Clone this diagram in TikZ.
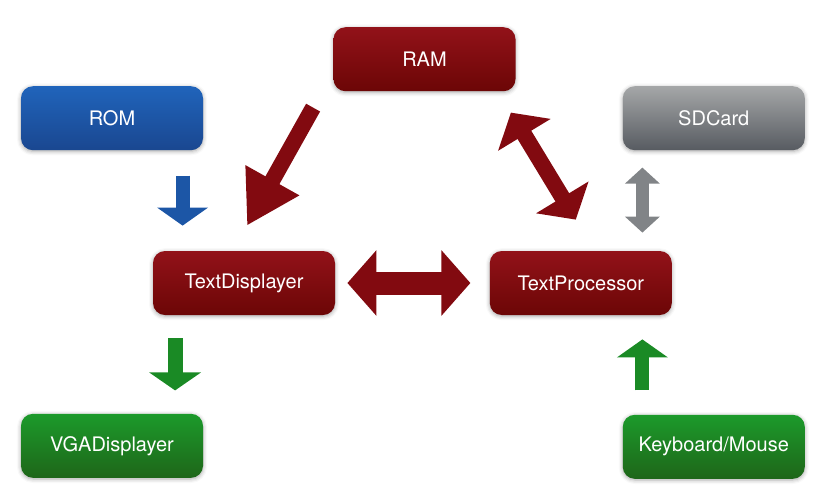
\documentclass[tikz,border=0pt]{standalone}
\usepackage{fontspec}
\setmainfont{TeX Gyre Heros}
\usepackage{tikz}
\usetikzlibrary{positioning,arrows.meta,shadows.blur}

\definecolor{redtop}{HTML}{921219}
\definecolor{redbot}{HTML}{6C0606}
\definecolor{bluetop}{HTML}{2064BB}
\definecolor{bluebot}{HTML}{1A4790}
\definecolor{graytop}{HTML}{A5A7A8}
\definecolor{graybot}{HTML}{575B61}
\definecolor{greentop}{HTML}{1C9A2B}
\definecolor{greenbot}{HTML}{1E6619}
\definecolor{redarr}{HTML}{820A10}
\definecolor{bluearr}{HTML}{1C56A6}
\definecolor{grayarr}{HTML}{818487}
\definecolor{greenarr}{HTML}{1A8A25}

\newcommand{\boxfont}{\fontsize{10pt}{12pt}\selectfont}

\tikzset{
  unit/.style={rounded corners=6pt, minimum width=91pt, minimum height=32pt,
    text=white, font=\boxfont,
    blur shadow={shadow xshift=0pt, shadow yshift=-0.6pt, shadow blur radius=2pt, shadow opacity=35}},
  redunit/.style={unit, top color=redtop, bottom color=redbot},
  blueunit/.style={unit, top color=bluetop, bottom color=bluebot},
  grayunit/.style={unit, top color=graytop, bottom color=graybot},
  greenunit/.style={unit, top color=greentop, bottom color=greenbot},
  fat/.style={line width=#1, line cap=butt},
}

\begin{document}
\begin{tikzpicture}[x=0.5pt, y=-0.5pt, node distance=50pt]
    \useasboundingbox (0,0) rectangle (820,495);

    \node[redunit]                                   (td)  at (244,283) {TextDisplayer};
    \node[redunit, right=77pt of td]                 (tp)  {TextProcessor};
    \node[redunit, above=79.5pt of td, xshift=90.25pt] (ram) {RAM};
    \node[blueunit, above=of td, xshift=-66pt]       (rom) {ROM};
    \node[grayunit, above=of tp, xshift=66.5pt]      (sd)  {SDCard};
    \node[greenunit, below=49pt of td, xshift=-66pt] (vga) {VGADisplayer};
    \node[greenunit, below=49.5pt of tp, xshift=66.5pt] (kb) {Keyboard/Mouse};

    \draw[fat=7pt, bluearr, -{Triangle[length=9pt 0 0, width=25pt 0]}, shorten <=12.5pt, shorten >=12.5pt]
        ([xshift=15pt]td.north west |- rom.south) -- ([xshift=15pt]td.north west);
    \draw[fat=8pt, redarr, -{Triangle[length=26pt 0 0, width=29pt 0]}]
        ([xshift=-10pt,yshift=-8pt]ram.south west) -- ([xshift=1.5pt,yshift=12.5pt]td.north);
    \draw[fat=8pt, redarr, {Triangle[length=13pt 0 0, width=30pt 0]}-{Triangle[length=13pt 0 0, width=30pt 0]}]
        ([xshift=-2.5pt,yshift=-10.5pt]ram.south east) -- ([xshift=-2.5pt,yshift=15.5pt]tp.north);
    \draw[fat=11.5pt, redarr, {Triangle[length=14.5pt 0 0, width=32pt 0]}-{Triangle[length=14.5pt 0 0, width=32pt 0]}, shorten <=6pt, shorten >=9.5pt]
        (td.east) -- (tp.west);
    \draw[fat=6.5pt, grayarr, {Triangle[length=8pt 0 0, width=17pt 0]}-{Triangle[length=8pt 0 0, width=17pt 0]}, shorten <=8.5pt, shorten >=9pt]
        ([xshift=10pt]sd.south west) -- ([xshift=10pt]sd.south west |- tp.north);
    \draw[fat=7.5pt, greenarr, -{Triangle[length=9pt 0 0, width=25.5pt 0]}, shorten <=11.5pt, shorten >=11.5pt]
        ([xshift=11.25pt]td.south west) -- ([xshift=11.25pt]td.south west |- vga.north);
    \draw[fat=7pt, greenarr, -{Triangle[length=9pt 0 0, width=25pt 0]}, shorten <=12pt, shorten >=12pt]
        ([xshift=10pt]kb.north west) -- ([xshift=10pt]kb.north west |- tp.south);
\end{tikzpicture}
\end{document}
